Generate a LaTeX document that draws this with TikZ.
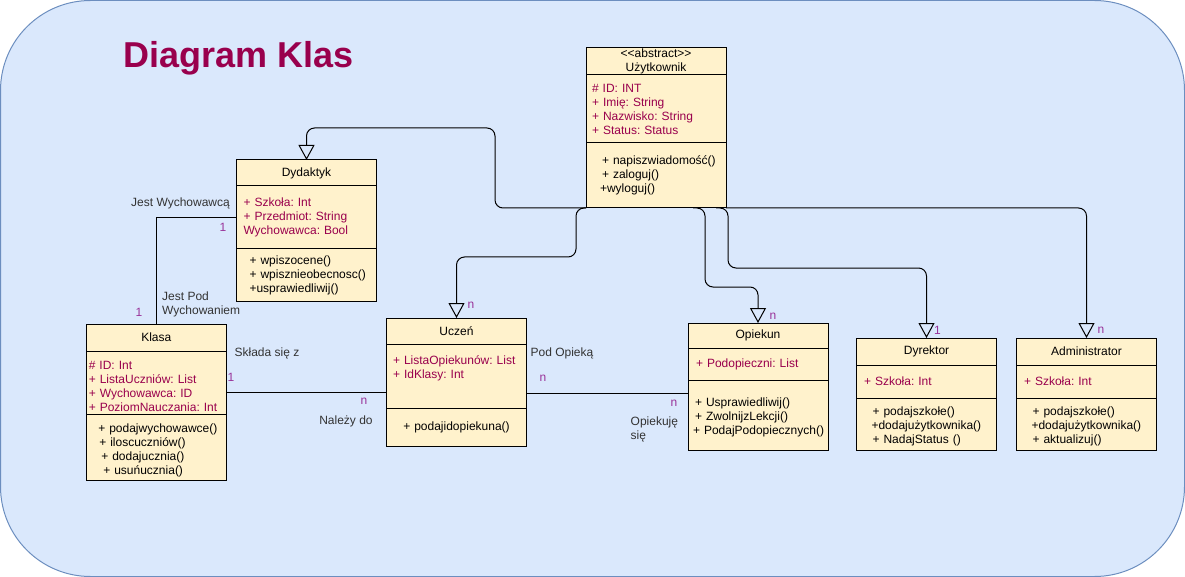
\documentclass[tikz,border=0pt]{standalone}
\usepackage{fontspec}
\setmainfont{Liberation Sans}
\usetikzlibrary{arrows.meta}
\definecolor{bgfill}{RGB}{218,232,252}
\definecolor{bgline}{RGB}{108,142,191}
\definecolor{clsfill}{RGB}{255,242,204}
\definecolor{attrcol}{RGB}{153,0,77}
\definecolor{multcol}{RGB}{153,51,153}
\definecolor{lblcol}{RGB}{51,51,51}
\frenchspacing
\hyphenpenalty=10000

\begin{document}
\begin{tikzpicture}[x=1pt, y=-1pt]
\tikzset{cls/.style = {shape=rectangle, draw, line width=1pt, fill=clsfill, minimum width=140pt, anchor=north, inner sep=0pt, outer sep=0pt, text width=140pt, font=\fontsize{12}{14}\selectfont}}
\tikzset{head/.style = {cls, align=center}}
\tikzset{attr/.style = {cls, align=left, text=attrcol, execute at begin node={\leftskip=#1\relax}}}
\tikzset{meth/.style = {cls, align=left, execute at begin node={\leftskip=#1\relax}}}
\tikzset{inherit/.style = {-{Triangle[open, length=15pt, width=16pt]}, line width=1pt, rounded corners=8pt}}
\tikzset{assoc/.style = {-, line width=1pt}}
\tikzset{mult/.style = {text=multcol, font=\fontsize{12}{14}\selectfont, inner sep=0pt}}
\tikzset{role/.style = {text=lblcol, font=\fontsize{12}{14}\selectfont, inner sep=0pt, align=left}}
\useasboundingbox (0,0) rectangle (1185,577);
\draw[draw=bgline, fill=bgfill, line width=1pt, rounded corners=90pt] (0.5,0.5) rectangle (1184.5,576.5);
\node[anchor=base west, text=attrcol, font=\bfseries\fontsize{36}{40}\selectfont, inner sep=0pt] (title) at (123,68) {Diagram Klas};
% klasy
\node[head, minimum height=27pt] (uzyt) at (656,47.5) {<\kern0pt<abstract>\kern0pt>\\Użytkownik};
\node[attr=6pt, minimum height=68pt] (uzyt-a) at (uzyt.south) {\rule{0pt}{11pt}\# ID: INT\\+ Imię: String\\+ Nazwisko: String\\+ Status: Status};
\node[meth=16pt, minimum height=65.5pt] (uzyt-m) at (uzyt-a.south) {+ napiszwiadomość()\\+ zaloguj()\\\hspace*{-2pt}+wyloguj()};
\node[head, minimum height=26pt] (dyd) at (306.5,160) {Dydaktyk};
\node[attr=7pt, minimum height=63pt] (dyd-a) at (dyd.south) {+ Szkoła: Int\\+ Przedmiot: String\\Wychowawca: Bool};
\node[meth=13pt, minimum height=52pt] (dyd-m) at (dyd-a.south) {+ wpiszocene()\\+ wpisznieobecnosc()\\+usprawiedliwij()};
\node[head, minimum height=27pt] (klasa) at (156.3,324) {Klasa};
\node[attr=2.5pt, minimum height=63pt] (klasa-a) at (klasa.south) {\rule{0pt}{15.5pt}\# ID: Int\\+ ListaUczniów: List\\+ Wychowawca: ID\\+ PoziomNauczania: Int};
\node[meth=12pt, minimum height=66pt] (klasa-m) at (klasa-a.south) {\rule{0pt}{15.5pt}+ podajwychowawce()\\\hspace*{1pt}+ iloscuczniów()\\\hspace*{3pt}+ dodajucznia()\\\hspace*{5pt}+ usuńucznia()};
\node[head, minimum height=26pt] (uczen) at (456.5,318) {Uczeń};
\node[attr=6.5pt, minimum height=64pt] (uczen-a) at (uczen.south) {+ ListaOpiekunów: List\\+ IdKlasy: Int\\\strut};
\node[head, minimum height=38pt] (uczen-m) at (uczen-a.south) {+ podajidopiekuna()};
\node[head, minimum height=25pt] (opiek) at (758,323) {Opiekun};
\node[attr=8pt, minimum height=32pt] (opiek-a) at (opiek.south) {+ Podopieczni: List};
\node[meth=7pt, minimum height=70pt] (opiek-m) at (opiek-a.south) {\rule{0pt}{13pt}+ Usprawiedliwij()\\+ ZwolnijzLekcji()\\\hspace*{-2pt}+ PodajPodopiecznych()};
\node[head, minimum height=27pt] (dyr) at (926.5,338) {Dyrektor};
\node[attr=7.5pt, minimum height=33pt] (dyr-a) at (dyr.south) {+ Szkoła: Int};
\node[meth=16pt, minimum height=52pt] (dyr-m) at (dyr-a.south) {\rule{0pt}{12.5pt}+ podajszkołe()\\\hspace*{-1pt}+dodajużytkownika()\\+ NadajStatus ()};
\node[head, minimum height=27pt] (admin) at (1086.5,338) {Administrator};
\node[attr=7.5pt, minimum height=33pt] (admin-a) at (admin.south) {+ Szkoła: Int};
\node[meth=16pt, minimum height=52pt] (admin-m) at (admin-a.south) {\rule{0pt}{12.5pt}+ podajszkołe()\\\hspace*{-1pt}+dodajużytkownika()\\+ aktualizuj()};
% dziedziczenie
\draw[inherit] (uzyt-m.south west) -| (495,128) -| (dyd.north);
\draw[inherit] (uzyt-m.south west) -| (576,257) -| (uczen.north);
\draw[inherit] ([xshift=37pt]uzyt-m.south) -| (705,287) -| (opiek.north);
\draw[inherit] ([xshift=60pt]uzyt-m.south) -| (728,268) -| (dyr.north);
\draw[inherit] (uzyt-m.south east) -| (admin.north);
% asocjacje
\draw[assoc] (dyd-a.west) -| (klasa.north);
\draw[assoc] ([yshift=-9.5pt]klasa-a.east) -- ([yshift=-16pt]uczen-a.west);
\draw[assoc] ([yshift=-17pt]uczen-a.east) -- ([yshift=22pt]opiek-m.west);
% etykiety
\node[role] (l-jw) at (180.5,203) {Jest Wychowawcą};
\node[mult] (m-dyd) at (223,227) {1};
\node[role, anchor=west] (l-jpw) at (162,304.5) {Jest Pod\\Wychowaniem};
\node[mult] (m-kl1) at (139,312) {1};
\node[role] (l-sz) at (267,353) {Składa się z};
\node[mult] (m-kl2) at (231,377) {1};
\node[mult] (m-uc1) at (364,401) {n};
\node[role] (l-nd) at (346,421) {Należy do};
\node[role] (l-po) at (562,353) {Pod Opieką};
\node[mult] (m-uc2) at (543,378) {n};
\node[mult] (m-op1) at (674,403) {n};
\node[role, anchor=west] (l-os) at (630.5,429) {Opiekuję\\się};
\node[mult] (m-uc3) at (471,305) {n};
\node[mult] (m-op2) at (773,316) {n};
\node[mult] (m-dyr) at (937.5,330) {1};
\node[mult] (m-adm) at (1101,330) {n};
\end{tikzpicture}
\end{document}
